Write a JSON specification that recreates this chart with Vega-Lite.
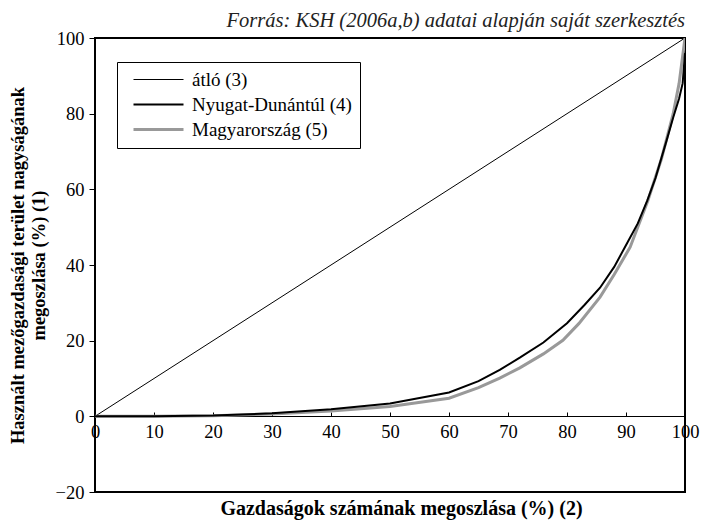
{
  "$schema": "https://vega.github.io/schema/vega-lite/v6.json",
  "width": 590,
  "height": 454,
  "autosize": "none",
  "padding": {"left": 95, "top": 38, "right": 17, "bottom": 32},
  "background": "white",
  "title": {
    "text": "Forrás: KSH (2006a,b) adatai alapján saját szerkesztés",
    "anchor": "end",
    "frame": "group",
    "font": "'Liberation Serif', 'Times New Roman', 'DejaVu Serif', serif",
    "fontStyle": "italic",
    "fontWeight": "normal",
    "fontSize": 20.5,
    "color": "#222",
    "offset": -2
  },
  "config": {
    "view": {"stroke": "black", "strokeWidth": 2},
    "font": "'Liberation Serif', 'Times New Roman', 'DejaVu Serif', serif"
  },
  "data": {
    "values": [
      {"series": "átló (3)", "x": 0, "y": 0},
      {"series": "átló (3)", "x": 100, "y": 100},
      {"series": "Magyarország (5)", "x": 0, "y": 0},
      {"series": "Magyarország (5)", "x": 10, "y": 0.05},
      {"series": "Magyarország (5)", "x": 20, "y": 0.15},
      {"series": "Magyarország (5)", "x": 30, "y": 0.6},
      {"series": "Magyarország (5)", "x": 40, "y": 1.4},
      {"series": "Magyarország (5)", "x": 50, "y": 2.6},
      {"series": "Magyarország (5)", "x": 60, "y": 4.8},
      {"series": "Magyarország (5)", "x": 65, "y": 7.6},
      {"series": "Magyarország (5)", "x": 68.6, "y": 10.1},
      {"series": "Magyarország (5)", "x": 72, "y": 12.8},
      {"series": "Magyarország (5)", "x": 76, "y": 16.5},
      {"series": "Magyarország (5)", "x": 79.3, "y": 20.1},
      {"series": "Magyarország (5)", "x": 82, "y": 24.5},
      {"series": "Magyarország (5)", "x": 85.6, "y": 31.5},
      {"series": "Magyarország (5)", "x": 88, "y": 37.5},
      {"series": "Magyarország (5)", "x": 90.7, "y": 44.7},
      {"series": "Magyarország (5)", "x": 93.7, "y": 57},
      {"series": "Magyarország (5)", "x": 96, "y": 68},
      {"series": "Magyarország (5)", "x": 98, "y": 80},
      {"series": "Magyarország (5)", "x": 99, "y": 88},
      {"series": "Magyarország (5)", "x": 100, "y": 100},
      {"series": "Nyugat-Dunántúl (4)", "x": 0, "y": 0},
      {"series": "Nyugat-Dunántúl (4)", "x": 10, "y": 0.05},
      {"series": "Nyugat-Dunántúl (4)", "x": 20, "y": 0.2},
      {"series": "Nyugat-Dunántúl (4)", "x": 30, "y": 0.8},
      {"series": "Nyugat-Dunántúl (4)", "x": 40, "y": 1.9},
      {"series": "Nyugat-Dunántúl (4)", "x": 50, "y": 3.4},
      {"series": "Nyugat-Dunántúl (4)", "x": 60, "y": 6.3},
      {"series": "Nyugat-Dunántúl (4)", "x": 65, "y": 9.3},
      {"series": "Nyugat-Dunántúl (4)", "x": 68.6, "y": 12.3},
      {"series": "Nyugat-Dunántúl (4)", "x": 72, "y": 15.5},
      {"series": "Nyugat-Dunántúl (4)", "x": 76, "y": 19.5},
      {"series": "Nyugat-Dunántúl (4)", "x": 80, "y": 24.6},
      {"series": "Nyugat-Dunántúl (4)", "x": 83, "y": 29.5},
      {"series": "Nyugat-Dunántúl (4)", "x": 85.6, "y": 34},
      {"series": "Nyugat-Dunántúl (4)", "x": 88, "y": 39.5},
      {"series": "Nyugat-Dunántúl (4)", "x": 90.2, "y": 45.8},
      {"series": "Nyugat-Dunántúl (4)", "x": 92, "y": 51},
      {"series": "Nyugat-Dunántúl (4)", "x": 93.6, "y": 57},
      {"series": "Nyugat-Dunántúl (4)", "x": 95, "y": 63},
      {"series": "Nyugat-Dunántúl (4)", "x": 96.9, "y": 73},
      {"series": "Nyugat-Dunántúl (4)", "x": 98, "y": 79},
      {"series": "Nyugat-Dunántúl (4)", "x": 99, "y": 84},
      {"series": "Nyugat-Dunántúl (4)", "x": 99.6, "y": 88},
      {"series": "Nyugat-Dunántúl (4)", "x": 100, "y": 96}
    ]
  },
  "mark": {"type": "line", "clip": true},
  "encoding": {
    "x": {
      "field": "x",
      "type": "quantitative",
      "scale": {"domain": [0, 100], "nice": false, "zero": false},
      "axis": {
        "values": [0, 10, 20, 30, 40, 50, 60, 70, 80, 90, 100],
        "offset": -76,
        "grid": false,
        "domainColor": "black",
        "domainWidth": 1,
        "tickColor": "black",
        "tickSize": -4,
        "labelPadding": 10,
        "labelFlush": false,
        "labelFont": "'Liberation Serif', 'Times New Roman', 'DejaVu Serif', serif",
        "labelFontSize": 18.5,
        "labelColor": "black",
        "title": "Gazdaságok számának megoszlása (%) (2)",
        "titleFont": "'Liberation Serif', 'Times New Roman', 'DejaVu Serif', serif",
        "titleFontSize": 20,
        "titleFontWeight": "bold",
        "titleColor": "black",
        "titlePadding": 58,
        "titleX": 306
      }
    },
    "y": {
      "field": "y",
      "type": "quantitative",
      "scale": {"domain": [-20, 100], "nice": false, "zero": false},
      "axis": {
        "values": [-20, 0, 20, 40, 60, 80, 100],
        "grid": false,
        "domain": false,
        "tickColor": "black",
        "tickSize": 6,
        "labelPadding": 5,
        "labelFont": "'Liberation Serif', 'Times New Roman', 'DejaVu Serif', serif",
        "labelFontSize": 18.5,
        "labelColor": "black",
        "title": ["Használt mezőgazdasági terület nagyságának", "megoszlása (%) (1)"],
        "titleFont": "'Liberation Serif', 'Times New Roman', 'DejaVu Serif', serif",
        "titleFontSize": 18.5,
        "titleFontWeight": "bold",
        "titleColor": "black",
        "titlePadding": 7,
        "titleLineHeight": 21
      }
    },
    "color": {
      "field": "series",
      "type": "nominal",
      "scale": {
        "domain": ["átló (3)", "Nyugat-Dunántúl (4)", "Magyarország (5)"],
        "range": ["black", "black", "#999999"]
      },
      "legend": {
        "title": null,
        "orient": "none",
        "legendX": 22,
        "legendY": 24,
        "strokeColor": "black",
        "padding": 8,
        "symbolType": "M-5,0H5",
        "symbolSize": 100,
        "symbolOffset": 24,
        "labelFont": "'Liberation Serif', 'Times New Roman', 'DejaVu Serif', serif",
        "labelFontSize": 19,
        "labelColor": "black",
        "labelLimit": 300,
        "labelOffset": 24,
        "rowPadding": 5,
        "encode": {
          "symbols": {
            "update": {
              "strokeWidth": {"signal": "datum.value === 'Nyugat-Dunántúl (4)' ? 6 : 2"}
            }
          }
        }
      }
    },
    "strokeWidth": {
      "field": "series",
      "type": "nominal",
      "scale": {
        "domain": ["átló (3)", "Nyugat-Dunántúl (4)", "Magyarország (5)"],
        "range": [1, 3, 1.3]
      },
      "legend": null
    }
  }
}
